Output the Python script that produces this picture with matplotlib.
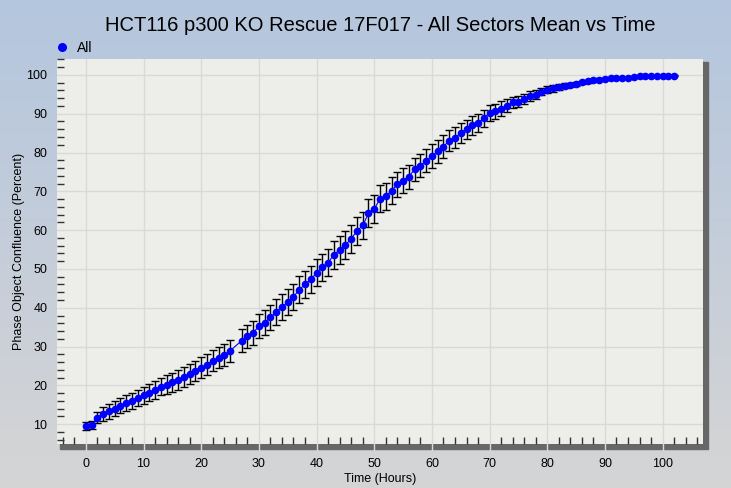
import numpy as np
import matplotlib
matplotlib.use("Agg")
import matplotlib.pyplot as plt
from matplotlib.ticker import MultipleLocator
from matplotlib.patches import Rectangle
from matplotlib.lines import Line2D

plt.rcParams['font.family'] = ['Liberation Sans', 'DejaVu Sans']

# elapsed time (hours) - no scan at 26 h
hours = list(range(0, 26)) + list(range(27, 103))

# mean phase object confluence (percent)
confluence = [
    9.6, 9.8, 11.7, 12.7, 13.3, 14.0, 14.8, 15.4, 16.0, 16.8,
    17.4, 18.1, 18.9, 19.7, 20.2, 20.8, 21.4, 22.2, 23.0, 23.8,
    24.6, 25.3, 26.4, 27.1, 27.9, 28.9,
    31.5, 32.6, 33.6, 35.2, 36.2, 37.5, 38.9, 40.2, 41.5, 42.8,
    44.7, 46.0, 47.3, 49.0, 50.4, 51.6, 53.7, 54.9, 56.2, 57.8,
    59.8, 61.2, 64.3, 65.4, 68.1, 68.7, 70.2, 71.8, 72.7,
    73.8, 75.7, 76.6, 77.9, 79.1, 80.3, 81.5, 83.1, 83.8, 85.1,
    86.0, 87.0, 87.7, 88.8, 90.2, 90.6, 91.3, 92.1, 92.9, 93.1,
    93.8, 94.6, 94.9, 95.7, 96.2, 96.5, 96.9, 97.2, 97.4, 97.6, 98.1,
    98.4, 98.6, 98.8, 99.0, 99.1, 99.1, 99.3, 99.3, 99.5, 99.6,
    99.6, 99.6, 99.7, 99.8, 99.8, 99.8,
]

# error (percent)
error = [
    1.0, 1.0, 1.4, 1.8, 1.9, 1.9, 2.0, 2.0, 2.1, 2.1,
    2.2, 2.2, 2.3, 2.3, 2.4, 2.4, 2.5, 2.5, 2.6, 2.6,
    2.7, 2.7, 2.7, 2.7, 2.8, 2.8,
    3.0, 3.0, 3.1, 3.1, 3.2, 3.2, 3.3, 3.3, 3.4, 3.4,
    3.4, 3.4, 3.5, 3.5, 3.5, 3.5, 3.6, 3.6, 3.6, 3.6,
    3.6, 3.6, 3.6, 3.6, 3.5, 3.4, 3.4, 3.3, 3.2,
    3.1, 3.0, 3.0, 3.0, 3.0, 2.9, 2.9, 2.8, 2.7, 2.6,
    2.5, 2.4, 2.3, 2.1, 2.0, 1.9, 1.9, 1.7, 1.5, 1.4,
    1.3, 1.3, 1.1, 1.0, 0.9, 0.85, 0.7, 0.6, 0.5, 0.5, 0.4,
    0.4, 0.3, 0.3, 0.3, 0.2, 0.2, 0.2, 0.2, 0.2, 0.1,
    0.1, 0.1, 0.1, 0.1, 0.1, 0.1,
]

W, H = 731, 488
fig = plt.figure(figsize=(W / 100, H / 100), dpi=100)

# background gradient (blue top -> gray bottom)
bg = fig.add_axes([0, 0, 1, 1], zorder=-10)
top = np.array([0.706, 0.776, 0.871])
bot = np.array([0.835, 0.835, 0.835])
g = np.linspace(0, 1, 256)[:, None]
img = top[None, None, :] * (1 - g[:, :, None]) + bot[None, None, :] * g[:, :, None]
bg.imshow(np.repeat(img, 2, axis=1), aspect='auto', extent=[0, 1, 0, 1])
bg.axis('off')

# drop shadow of plot area
fig.patches.append(Rectangle((60 / W, 1 - 449 / H), (708 - 60) / W, (449 - 62) / H,
                             transform=fig.transFigure, color='#676767', zorder=0.5))

ax = fig.add_axes([57 / W, 1 - 444 / H, (703 - 57) / W, (444 - 59) / H], zorder=1)
ax.set_facecolor('#EDEDE9')

ax.errorbar(hours, confluence, yerr=error, color='blue', lw=0.8, marker='o', ms=4.5,
            mfc='blue', mec='blue', ecolor='black', elinewidth=1, capsize=2.6,
            capthick=1, zorder=3)

ax.set_xlim(-5, 107)
ax.set_ylim(4.9, 104.1)
ax.xaxis.set_major_locator(MultipleLocator(10))
ax.xaxis.set_minor_locator(MultipleLocator(2))
ax.yaxis.set_major_locator(MultipleLocator(10))
ax.yaxis.set_minor_locator(MultipleLocator(2))
ax.tick_params(which='major', length=0, labelsize=9, colors='black')
ax.tick_params(axis='x', which='major', pad=10)
ax.tick_params(axis='y', which='major', pad=7)
ax.tick_params(which='minor', direction='in', length=5, width=1, color='#333333')
ax.grid(True, which='major', color='#D9D9D9', lw=1)
ax.set_axisbelow(True)
for s in ax.spines.values():
    s.set_visible(False)

# light gaps in the shadow bar under each vertical grid line
for xv in range(0, 110, 10):
    ax.plot([xv, xv], [-0.015, 0], transform=ax.get_xaxis_transform(),
            color='#D9D9D9', lw=1, clip_on=False, zorder=0.6)

ax.set_title("HCT116 p300 KO Rescue 17F017 - All Sectors Mean vs Time",
             fontsize=14.5, pad=20)
ax.set_xlabel("Time (Hours)", fontsize=9, labelpad=2)
ax.set_ylabel("Phase Object Confluence (Percent)", fontsize=9, labelpad=1)

handle = Line2D([], [], color='blue', marker='o', ms=5.5, ls='none')
ax.legend([handle], ['All'], loc='lower left', bbox_to_anchor=(-0.01, 1.0),
          frameon=False, fontsize=10, handlelength=1.0, handletextpad=0.6,
          borderaxespad=0.1, borderpad=0.2)

fig.savefig("out.png", dpi=100)
